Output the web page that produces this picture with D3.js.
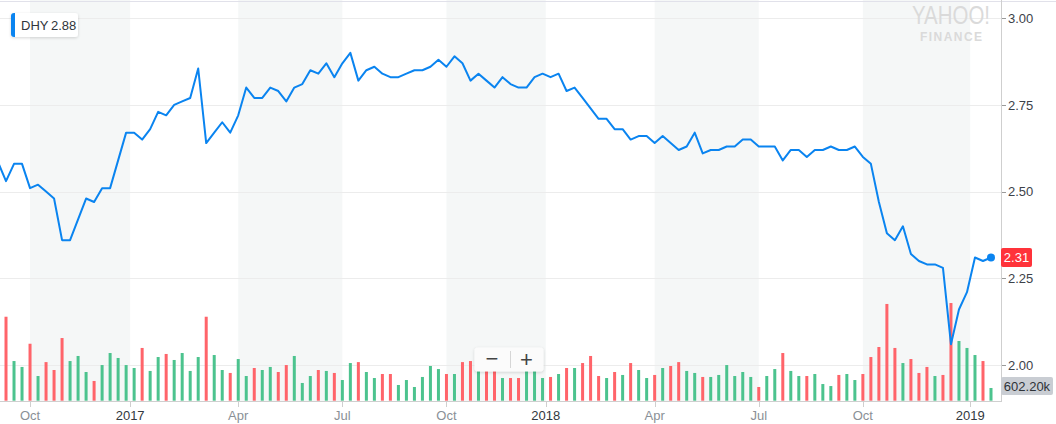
<!DOCTYPE html>
<html><head><meta charset="utf-8">
<script src="https://cdn.jsdelivr.net/npm/d3@7"></script>
<style>html,body{margin:0;padding:0;background:#fff;overflow:hidden}</style>
</head><body><svg id="chart" width="1056" height="424"></svg>
<script>
// ---------- data ----------
const symbol = "DHY";
const legendValue = 2.88;
// weekly closes; index 0 is the partial (clipped) week before the first full week
const closes = [2.585,
 2.53,2.58,2.58,2.51,2.52,2.50,2.48,2.36,2.36,2.42,
 2.48,2.47,2.51,2.51,2.59,2.67,2.67,2.65,2.68,2.73,
 2.72,2.75,2.76,2.77,2.855,2.64,2.67,2.70,2.67,2.72,
 2.80,2.77,2.77,2.80,2.79,2.76,2.80,2.81,2.85,2.84,
 2.87,2.83,2.87,2.90,2.82,2.85,2.86,2.84,2.83,2.83,
 2.84,2.85,2.85,2.86,2.88,2.86,2.89,2.87,2.82,2.84,
 2.82,2.80,2.83,2.81,2.80,2.80,2.83,2.84,2.83,2.84,
 2.79,2.80,2.77,2.74,2.71,2.71,2.68,2.68,2.65,2.66,
 2.66,2.64,2.66,2.64,2.62,2.63,2.67,2.61,2.62,2.62,
 2.63,2.63,2.65,2.65,2.63,2.63,2.63,2.59,2.62,2.62,
 2.60,2.62,2.62,2.63,2.62,2.62,2.63,2.60,2.58,2.47,
 2.38,2.36,2.40,2.32,2.30,2.29,2.29,2.28,2.06,2.16,
 2.21,2.31,2.30,2.31];
// weekly volume in thousands (null = no visible bar)
const volumes = [null,
 3980,1880,1600,2700,1170,1830,1455,2970,1880,2120,
 1360,935,1690,2260,2025,1690,1550,2500,1410,2070,
 2215,1930,2260,1410,2070,3980,2165,1455,1315,1975,
 1170,1550,1455,1600,1360,1690,2120,840,1170,1455,
 1410,1315,980,1785,1830,1360,1075,1265,1265,745,
 980,650,1125,1645,1500,1265,1265,1830,1880,1420,
 1610,1520,1075,1075,1075,1470,1470,1075,1125,1265,
 1550,1550,1785,2120,1170,1075,1360,1220,1785,1455,
 1075,1220,1550,1645,1830,1410,1315,1125,1125,1220,
 1690,1170,1360,1125,650,1170,1500,2260,1410,1170,
 1170,1265,790,695,1220,1265,980,1265,2070,2545,
 4585,2500,1785,1975,1315,1600,1170,1220,4630,2830,
 2500,2165,1880,602.2];
// week direction (u = up, d = down)
const directions = ("-" +
 "duududdduu" + "uduuuuuduu" + "duuuuduudu" + "uduudduuud" +
 "uduuduuddu" + "uuuuududdu" + "ddudduuudu" + "dudddududu" +
 "ududduuduu" + "uuuuduuduu" + "duuuduuddd" + "dduddduddu" +
 "uudu").split("");
const tickIndex  = [4, 16.5, 30, 43, 56, 68.4, 82, 95, 108, 121.4];
const tickLabels = ["Oct","2017","Apr","Jul","Oct","2018","Apr","Jul","Oct","2019"];
const tickIsYear = [false,true,false,false,false,true,false,false,false,true];
const priceTicks = [2.00, 2.25, 2.50, 2.75, 3.00];

// ---------- layout ----------
const W = 1056, H = 424;
const plotRight = 1001, axisY = 401;
const FONT = '"Helvetica Neue", Helvetica, Arial, "Liberation Sans", sans-serif';
const BLUE = "#0a84f0", GREEN = "#4cc38e", RED = "#ff646a";

const svg = d3.select("#chart").attr("font-family", FONT);
const defs = svg.append("defs");
defs.append("clipPath").attr("id","plotclip").append("rect")
  .attr("x",0).attr("y",0).attr("width",plotRight).attr("height",axisY);
const sh = defs.append("filter").attr("id","shadow").attr("x","-20%").attr("y","-30%").attr("width","140%").attr("height","170%");
sh.append("feDropShadow").attr("dx",0).attr("dy",1).attr("stdDeviation",1.6)
  .attr("flood-color","#000").attr("flood-opacity",0.16);

const x = d3.scaleLinear().domain([0, closes.length - 1]).range([-2, 991]);
const y = d3.scaleLinear().domain([2, 3]).range([365, 18.2]);
const yv = d3.scaleLinear().domain([0, 4740]).range([400.7, 300.7]);

const plot = svg.append("g").attr("clip-path","url(#plotclip)");

// quarter shading bands
const bands = [];
for (let i = 0; i + 1 < tickIndex.length; i += 2) bands.push([tickIndex[i], tickIndex[i+1]]);
plot.selectAll("rect.band").data(bands).join("rect").attr("class","band")
  .attr("x", d => x(d[0])).attr("width", d => x(d[1]) - x(d[0]))
  .attr("y", 0).attr("height", axisY).attr("fill", "#f5f7f7");

// top border
svg.append("line").attr("x1",0).attr("x2",W).attr("y1",1.5).attr("y2",1.5)
  .attr("stroke","#e1e1ea").attr("stroke-width",1);

// grid lines
plot.selectAll("line.grid").data(priceTicks).join("line").attr("class","grid")
  .attr("x1",0).attr("x2",plotRight)
  .attr("y1", d => Math.round(y(d)) + 0.5).attr("y2", d => Math.round(y(d)) + 0.5)
  .attr("stroke","#ececec").attr("stroke-width",1);

// watermark
const wm = svg.append("g").attr("fill","#dadada");
wm.append("text").attr("x",912).attr("y",24).attr("font-size",25).attr("font-weight",300)
  .attr("textLength",78).attr("lengthAdjust","spacingAndGlyphs").text("YAHOO!");
wm.append("text").attr("x",920).attr("y",41).attr("font-size",12).attr("font-weight",700)
  .attr("textLength",62).attr("lengthAdjust","spacing").text("FINANCE");

// volume bars
const volData = volumes.map((v,i) => ({i, v, dir: directions[i]})).filter(d => d.v != null);
plot.selectAll("rect.vol").data(volData).join("rect").attr("class","vol")
  .attr("x", d => x(d.i) - 1.5).attr("width", 3)
  .attr("y", d => yv(d.v)).attr("height", d => yv(0) - yv(d.v))
  .attr("fill", d => d.dir === "d" ? RED : GREEN);

// zoom control
const zc = svg.append("g");
zc.append("rect").attr("x",474.5).attr("y",347.5).attr("width",69).attr("height",24).attr("rx",3)
  .attr("fill","#fbfbfb").attr("filter","url(#shadow)");
zc.append("line").attr("x1",510.5).attr("x2",510.5).attr("y1",351).attr("y2",368).attr("stroke","#d6d6d6");
zc.append("text").attr("x",492).attr("y",366).attr("text-anchor","middle").attr("font-size",22)
  .attr("font-weight",300).attr("fill","#444").text("−");
zc.append("text").attr("x",526.5).attr("y",366.5).attr("text-anchor","middle").attr("font-size",22)
  .attr("font-weight",300).attr("fill","#444").text("+");

// price line
const line = d3.line().x((d,i) => x(i)).y(d => y(d));
plot.append("path").datum(closes).attr("d", line).attr("fill","none")
  .attr("stroke", BLUE).attr("stroke-width", 2).attr("stroke-linejoin","round");
const last = closes.length - 1;
svg.append("circle").attr("cx", x(last)).attr("cy", y(closes[last])).attr("r", 4).attr("fill", BLUE);

// axes lines
svg.append("line").attr("x1",plotRight+0.5).attr("x2",plotRight+0.5).attr("y1",0).attr("y2",axisY+1)
  .attr("stroke","#cfcfcf");
svg.append("line").attr("x1",0).attr("x2",plotRight+1).attr("y1",axisY+0.5).attr("y2",axisY+0.5)
  .attr("stroke","#cfcfcf");

// y axis ticks + labels
const yAxis = svg.append("g");
yAxis.selectAll("line").data(priceTicks).join("line")
  .attr("x1",plotRight+1).attr("x2",plotRight+5)
  .attr("y1", d => Math.round(y(d)) + 0.5).attr("y2", d => Math.round(y(d)) + 0.5)
  .attr("stroke","#9a9a9a");
yAxis.selectAll("text").data(priceTicks).join("text")
  .attr("x", plotRight + 7).attr("y", d => y(d)).attr("dy","0.36em")
  .attr("font-size",13).attr("fill","#3d4249").text(d => d3.format(".2f")(d));

// x axis ticks + labels
const xAxis = svg.append("g");
xAxis.selectAll("line").data(tickIndex).join("line")
  .attr("x1", d => Math.round(x(d)) + 0.5).attr("x2", d => Math.round(x(d)) + 0.5)
  .attr("y1", axisY + 1).attr("y2", axisY + 6).attr("stroke","#cfcfcf");
xAxis.selectAll("text").data(tickIndex).join("text")
  .attr("x", d => x(d)).attr("y", 420).attr("text-anchor","middle").attr("font-size",13)
  .attr("fill", (d,i) => tickIsYear[i] ? "#33383e" : "#8a9096")
  .text((d,i) => tickLabels[i]);

// price label
const py = y(closes[last]);
svg.append("rect").attr("x",plotRight).attr("y",py - 9.5).attr("width",31).attr("height",19).attr("rx",2)
  .attr("fill","#ff333a");
svg.append("text").attr("x",plotRight + 15.5).attr("y",py).attr("dy","0.36em").attr("text-anchor","middle")
  .attr("font-size",13).attr("fill","#fff").text(d3.format(".2f")(closes[last]));

// volume label
const vy = yv(volumes[last]) - 2;
svg.append("rect").attr("x",plotRight).attr("y",vy - 9).attr("width",52).attr("height",18).attr("rx",2)
  .attr("fill","#c9cdd3");
svg.append("text").attr("x",plotRight + 26).attr("y",vy).attr("dy","0.36em").attr("text-anchor","middle")
  .attr("font-size",13).attr("fill","#2f3338").text(d3.format(".2f")(volumes[last]) + "k");

// legend
const lg = svg.append("g");
lg.append("rect").attr("x",11).attr("y",13).attr("width",67).attr("height",24).attr("rx",3)
  .attr("fill","#fff").attr("filter","url(#shadow)");
lg.append("path").attr("d","M15,13 h-1 a3,3 0 0 0 -3,3 v18 a3,3 0 0 0 3,3 h1 z").attr("fill", BLUE);
lg.append("text").attr("x",21).attr("y",30).attr("font-size",13).attr("fill","#30353b")
  .text(symbol);
lg.append("text").attr("x",51).attr("y",30).attr("font-size",13).attr("fill","#30353b")
  .text(d3.format(".2f")(legendValue));
</script></body></html>
